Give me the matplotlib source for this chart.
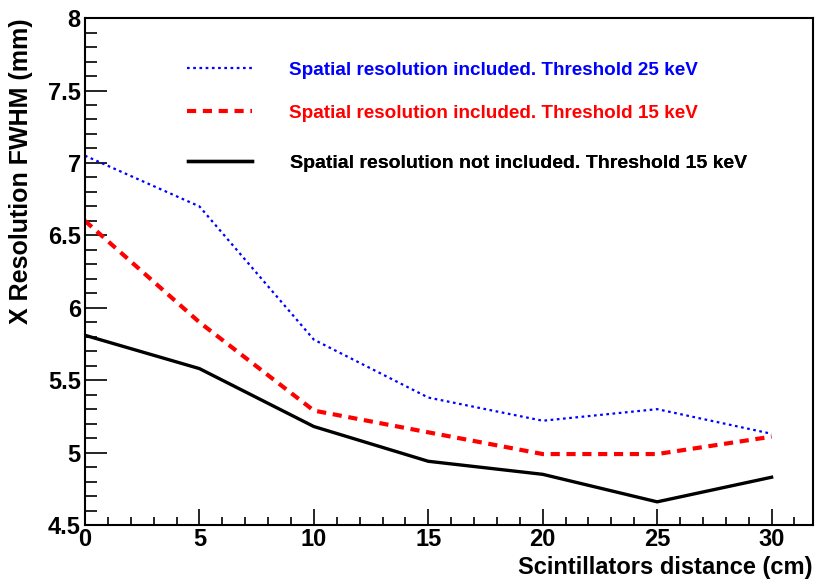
import matplotlib.pyplot as plt
from matplotlib.ticker import MultipleLocator, FormatStrFormatter

distance = [0, 5, 10, 15, 20, 25, 30]
res_thr25 = [7.05, 6.70, 5.78, 5.38, 5.22, 5.30, 5.13]
res_thr15 = [6.60, 5.90, 5.29, 5.14, 4.99, 4.99, 5.11]
res_noSR = [5.81, 5.58, 5.18, 4.94, 4.85, 4.66, 4.83]

labels = [
    "Spatial resolution included. Threshold 25 keV",
    "Spatial resolution included. Threshold 15 keV",
    "Spatial resolution not included. Threshold 15 keV",
]

bold = ["Liberation Sans", "DejaVu Sans"]

fig = plt.figure(figsize=(8.21, 5.80), dpi=100)
ax = fig.add_axes([0.1035, 0.0948, 0.8865, 0.874])

l1, = ax.plot(distance, res_thr25, color="blue", linewidth=1.6, linestyle=(0, (1.2, 1.6)))
l2, = ax.plot(distance, res_thr15, color="red", linewidth=3.0, linestyle=(0, (2.2, 1.6)))
l3, = ax.plot(distance, res_noSR, color="black", linewidth=2.4)

ax.set_xlim(0, 31.8)
ax.set_ylim(4.5, 8)
ax.xaxis.set_major_locator(MultipleLocator(5))
ax.xaxis.set_minor_locator(MultipleLocator(1))
ax.yaxis.set_major_locator(MultipleLocator(0.5))
ax.yaxis.set_minor_locator(MultipleLocator(0.1))
ax.xaxis.set_major_formatter(FormatStrFormatter("%g"))
ax.yaxis.set_major_formatter(FormatStrFormatter("%g"))
ax.tick_params(axis="y", which="major", direction="in", length=16, width=1.2, pad=3)
ax.tick_params(axis="y", which="minor", direction="in", length=8.5, width=1.2)
ax.tick_params(axis="x", which="major", direction="in", length=11.5, width=1.2, pad=2)
ax.tick_params(axis="x", which="minor", direction="in", length=6, width=1.2)
for lab in ax.get_xticklabels() + ax.get_yticklabels():
    lab.set_family(bold)
    lab.set_fontweight("bold")
    lab.set_fontsize(17)
for s in ax.spines.values():
    s.set_linewidth(1.5)

ax.set_xlabel("Scintillators distance (cm)", family=bold, fontweight="bold", fontsize=17)
ax.xaxis.set_label_coords(1.0, -0.062)
ax.xaxis.label.set_horizontalalignment("right")
ax.set_ylabel("X Resolution FWHM (mm)", family=bold, fontweight="bold", fontsize=18)
ax.yaxis.set_label_coords(-0.088, 1.0)
ax.yaxis.label.set_verticalalignment("center")
ax.yaxis.label.set_horizontalalignment("right")

# one legend per entry so each row sits where the original has it
rows = [(l1, labels[0], 0.897, 13.6), (l2, labels[1], 0.813, 13.6), (l3, labels[2], 0.714, 14)]
for handle, text, ypos, fsize in rows:
    leg = ax.legend([handle], [text], loc="center left", bbox_to_anchor=(0.117, ypos),
                    frameon=False, handlelength=3.45 * 13.5 / fsize, handletextpad=2.0 * 13.5 / fsize,
                    labelcolor="linecolor", prop={"family": bold, "weight": "bold", "size": fsize})
    ax.add_artist(leg)

fig.savefig("out.png", dpi=100)
